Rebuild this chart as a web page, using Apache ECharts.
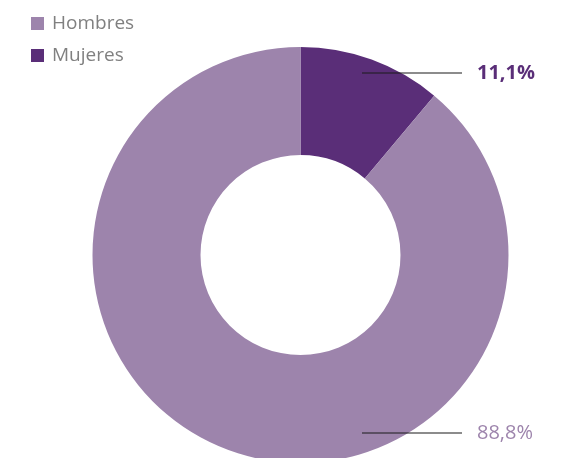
<!DOCTYPE html>
<html>
<head>
<meta charset="utf-8">
<script src="https://cdn.jsdelivr.net/npm/echarts@6/dist/echarts.min.js"></script>
<style>html,body{margin:0;padding:0;background:#fff}#c{width:572px;height:458px}</style>
</head>
<body>
<div id="c"></div>
<script>
var categories = ['Mujeres', 'Hombres'];
var values = [11.1, 88.8];
var legendOrder = ['Hombres', 'Mujeres'];
var labelTexts = ['11,1%', '88,8%'];
var colors = ['#5a2e78', '#9d84ac'];

var chart = echarts.init(document.getElementById('c'), null, {renderer: 'canvas'});
var labelY = [73, 433];
var center = [300.5, 255];
var radius = [100, 208];

var option = {
  animation: false,
  color: colors,
  legend: {
    data: legendOrder,
    orient: 'vertical',
    left: 31,
    top: 14,
    padding: 0,
    itemWidth: 13,
    itemHeight: 13,
    itemGap: 13,
    icon: 'rect',
    textStyle: {color: '#808080', fontSize: 19, fontFamily: 'Open Sans', padding: [0, 0, 0, 3]}
  },
  series: [{
    type: 'pie',
    center: center,
    radius: radius,
    startAngle: 90,
    clockwise: true,
    silent: true,
    z: 1,
    label: {show: false},
    labelLine: {show: false},
    data: categories.map(function (c, i) { return {name: c, value: values[i]}; })
  }, {
    type: 'pie',
    center: center,
    radius: radius,
    startAngle: 90,
    clockwise: true,
    silent: true,
    z: 5,
    legendHoverLink: false,
    itemStyle: {color: 'rgba(0,0,0,0)'},
    data: categories.map(function (c, i) {
      return {
        name: c, value: values[i],
        itemStyle: {color: 'rgba(0,0,0,0)'},
        label: {
          formatter: labelTexts[i],
          color: colors[i],
          fontWeight: i === 0 ? 'bold' : 'normal',
          fontSize: 20,
          fontFamily: 'Open Sans'
        }
      };
    }),
    label: {show: true, position: 'outside', align: 'left', verticalAlign: 'middle'},
    labelLine: {show: true, lineStyle: {color: '#1a1a1a', width: 1.2}},
    labelLayout: function (p) {
      var y = labelY[p.dataIndex];
      return {
        x: 477, y: y, align: 'left', verticalAlign: 'middle',
        labelLinePoints: [[362, y], [462, y], [462, y]]
      };
    }
  }]
};
chart.setOption(option);
</script>
</body>
</html>
